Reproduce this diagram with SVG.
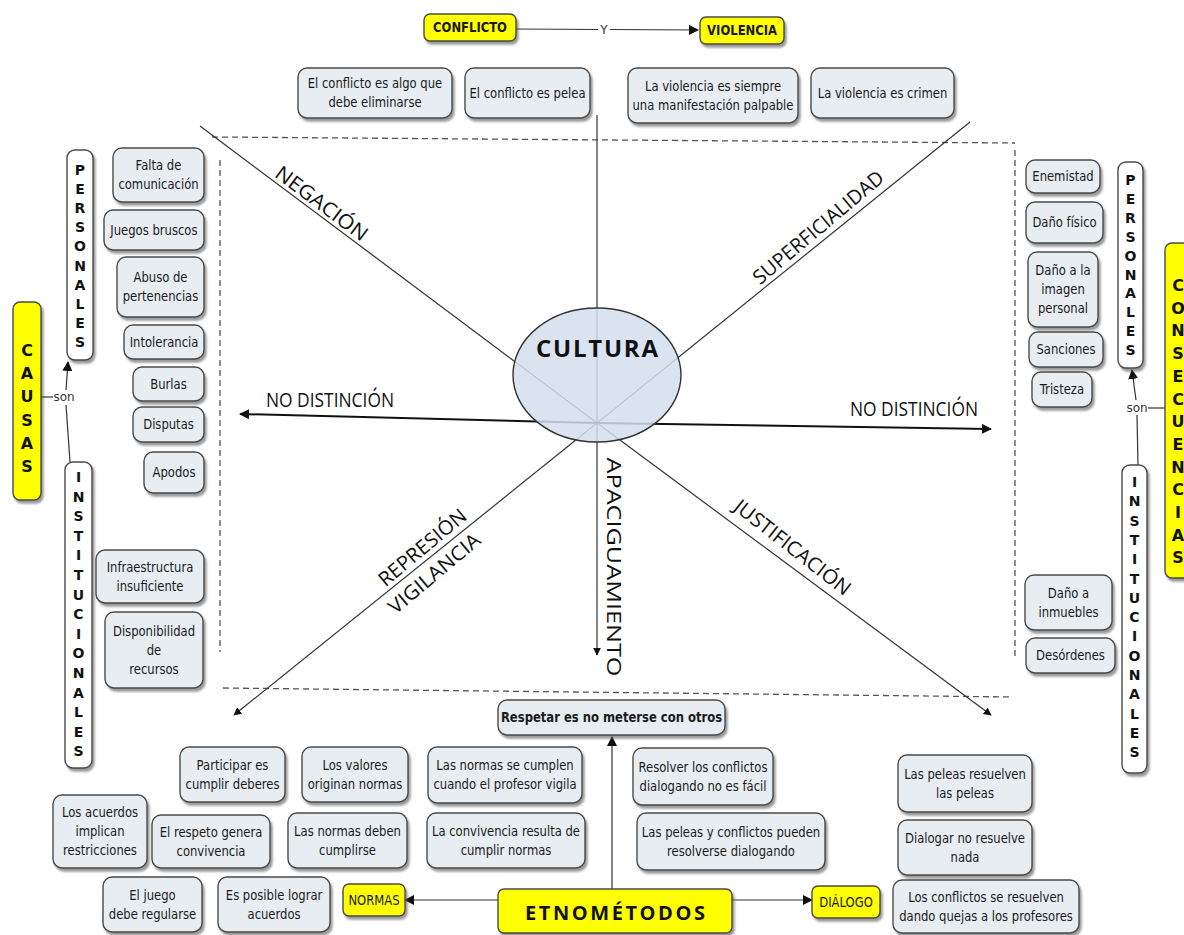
<svg xmlns="http://www.w3.org/2000/svg" width="1184" height="935" viewBox="0 0 1184 935">
<defs>
<filter id="sh" x="-20%" y="-20%" width="140%" height="140%">
<feDropShadow dx="2" dy="3" stdDeviation="1" flood-color="#555" flood-opacity="0.6"/>
</filter>
<marker id="ah" viewBox="0 0 10 10" refX="9" refY="5" markerWidth="10" markerHeight="10" markerUnits="userSpaceOnUse" orient="auto">
<path d="M0,0 L10,5 L0,10 Z" fill="#111"/>
</marker>
<marker id="ahs" viewBox="0 0 10 10" refX="9" refY="5" markerWidth="8" markerHeight="8" markerUnits="userSpaceOnUse" orient="auto">
<path d="M0,0 L10,5 L0,10 Z" fill="#111"/>
</marker>
</defs>
<style>
.n rect{fill:#e7edf1;stroke:#4a4a4a;stroke-width:1.4;filter:url(#sh)}
.y rect{fill:#ffff00;stroke:#4a4a4a;stroke-width:1.4;filter:url(#sh)}
.w rect{fill:#ffffff;stroke:#4a4a4a;stroke-width:1.4;filter:url(#sh)}
.t{font-family:"DejaVu Sans",Verdana,sans-serif;font-size:14.5px;fill:#1a1a1a;text-anchor:middle;transform-box:fill-box;transform-origin:center;transform:scaleX(0.8)}
.b{font-weight:bold}
.v{font-family:"DejaVu Sans",Verdana,sans-serif;font-weight:bold;font-size:14px;fill:#111;text-anchor:middle}
.vb{font-size:16px}
.lbl{font-family:"Open Sans",sans-serif;font-size:20px;fill:#111;text-anchor:middle}
.c{dominant-baseline:central}
.ln{stroke:#333;stroke-width:1.2;fill:none}
.dash{stroke:#555;stroke-width:1.3;stroke-dasharray:6 4;fill:none}
.lp{font-family:"DejaVu Sans",Verdana,sans-serif;font-size:12px;fill:#333;text-anchor:middle}
</style>
<rect width="1184" height="935" fill="#ffffff"/>

<g id="guides">
<path class="dash" d="M212,137 L1015,143"/>
<path class="dash" d="M220,160 L220,652"/>
<path class="dash" d="M1015,150 L1015,657"/>
<path class="dash" d="M223,688 L1013,697"/>
</g>

<g id="connectors">
<path class="ln" d="M200,126 L597,423"/>
<path class="ln" d="M970,122 L597,423"/>
<path class="ln" d="M597,115 L597,423"/>
<path class="ln" d="M597,423 L597,655" marker-end="url(#ahs)"/>
<path class="ln" d="M597,423 L234,715" marker-end="url(#ahs)"/>
<path class="ln" d="M597,423 L991,715" marker-end="url(#ahs)"/>
<path d="M597,423 L240,414" stroke="#111" stroke-width="2" fill="none" marker-end="url(#ah)"/>
<path d="M597,423 L991,429" stroke="#111" stroke-width="2" fill="none" marker-end="url(#ah)"/>
<path class="ln" d="M516,29 L598,29.5"/>
<path class="ln" d="M610,29.5 L698,30" marker-end="url(#ah)"/>
<text class="lp" x="604" y="34">Y</text>
<path class="ln" d="M41,397 L53,397"/>
<path class="ln" d="M66,390 L68,362" marker-end="url(#ah)"/>
<path class="ln" d="M66,405 L70,462"/>
<text class="lp" x="64" y="401">son</text>
<path class="ln" d="M1148,408 L1165,408"/>
<path class="ln" d="M1136,400 L1132,370" marker-end="url(#ah)"/>
<path class="ln" d="M1137,415 L1138,465"/>
<text class="lp" x="1137" y="412">son</text>
<path class="ln" d="M612,889 L612,737" marker-end="url(#ah)"/>
<path class="ln" d="M498,900 L405,900" marker-end="url(#ah)"/>
<path class="ln" d="M732,900 L812,900" marker-end="url(#ah)"/>
</g>

<g id="cultura">
<ellipse cx="597" cy="375" rx="84" ry="67" fill="#d3dfee" fill-opacity="0.85" stroke="#333" stroke-width="1.4"/>
<text x="597" y="357" font-family="Open Sans,sans-serif" font-weight="bold" font-size="24" fill="#111" text-anchor="middle" textLength="122" lengthAdjust="spacing">CULTURA</text>
</g>

<g id="labels">
<text class="lbl c" transform="translate(322,203) rotate(37)" textLength="110" lengthAdjust="spacingAndGlyphs">NEGACIÓN</text>
<text class="lbl c" transform="translate(818,227) rotate(-40)" textLength="164" lengthAdjust="spacingAndGlyphs">SUPERFICIALIDAD</text>
<text class="lbl" x="330" y="407" textLength="128" lengthAdjust="spacingAndGlyphs">NO DISTINCIÓN</text>
<text class="lbl" x="914" y="416" textLength="128" lengthAdjust="spacingAndGlyphs">NO DISTINCIÓN</text>
<text class="lbl c" transform="translate(422,547) rotate(-40)" textLength="108" lengthAdjust="spacingAndGlyphs">REPRESIÓN</text>
<text class="lbl c" transform="translate(434,573) rotate(-40)" textLength="113" lengthAdjust="spacingAndGlyphs">VIGILANCIA</text>
<text class="lbl c" transform="translate(793,547) rotate(38)" textLength="142" lengthAdjust="spacingAndGlyphs">JUSTIFICACIÓN</text>
<text class="lbl c" transform="translate(614,567) rotate(90)" font-size="22" textLength="219" lengthAdjust="spacingAndGlyphs">APACIGUAMIENTO</text>
</g>

<g id="conflicto" class="y"><rect x="424" y="14" width="92" height="27" rx="6"/><text class="t b" x="470" y="32">CONFLICTO</text></g>
<g id="violencia" class="y"><rect x="700" y="17" width="84" height="27" rx="6"/><text class="t b" x="742" y="35">VIOLENCIA</text></g>

<g id="n-algo" class="n"><rect x="298" y="68" width="154" height="50" rx="9"/><text class="t"><tspan x="375" y="88.5">El conflicto es algo que</tspan><tspan x="375" y="107.5">debe eliminarse</tspan></text></g>
<g id="n-pelea" class="n"><rect x="465" y="68" width="125" height="50" rx="9"/><text class="t" x="527.5" y="98">El conflicto es pelea</text></g>
<g id="n-palpable" class="n"><rect x="628" y="68" width="170" height="55" rx="9"/><text class="t"><tspan x="713" y="91">La violencia es siempre</tspan><tspan x="713" y="110">una manifestación palpable</tspan></text></g>
<g id="n-crimen" class="n"><rect x="811" y="68" width="143" height="50" rx="9"/><text class="t" x="882.5" y="98">La violencia es crimen</text></g>

<g id="causas" class="y"><rect x="13" y="302" width="28" height="198" rx="7"/>
<text class="v vb" x="27" y="356"><tspan x="27">C</tspan><tspan x="27" dy="23.2">A</tspan><tspan x="27" dy="23.2">U</tspan><tspan x="27" dy="23.2">S</tspan><tspan x="27" dy="23.2">A</tspan><tspan x="27" dy="23.2">S</tspan></text></g>

<g id="personales-c" class="w"><rect x="67" y="150" width="26" height="210" rx="8"/>
<text class="v" x="80" y="175"><tspan x="80">P</tspan><tspan x="80" dy="19.1">E</tspan><tspan x="80" dy="19.1">R</tspan><tspan x="80" dy="19.1">S</tspan><tspan x="80" dy="19.1">O</tspan><tspan x="80" dy="19.1">N</tspan><tspan x="80" dy="19.1">A</tspan><tspan x="80" dy="19.1">L</tspan><tspan x="80" dy="19.1">E</tspan><tspan x="80" dy="19.1">S</tspan></text></g>

<g id="institucionales-c" class="w"><rect x="65" y="462" width="27" height="306" rx="8"/>
<text class="v" x="78.5" y="482"><tspan x="78.5">I</tspan><tspan x="78.5" dy="19.6">N</tspan><tspan x="78.5" dy="19.6">S</tspan><tspan x="78.5" dy="19.6">T</tspan><tspan x="78.5" dy="19.6">I</tspan><tspan x="78.5" dy="19.6">T</tspan><tspan x="78.5" dy="19.6">U</tspan><tspan x="78.5" dy="19.6">C</tspan><tspan x="78.5" dy="19.6">I</tspan><tspan x="78.5" dy="19.6">O</tspan><tspan x="78.5" dy="19.6">N</tspan><tspan x="78.5" dy="19.6">A</tspan><tspan x="78.5" dy="19.6">L</tspan><tspan x="78.5" dy="19.6">E</tspan><tspan x="78.5" dy="19.6">S</tspan></text></g>

<g id="n-falta" class="n"><rect x="113" y="148" width="91" height="54" rx="9"/><text class="t"><tspan x="158.5" y="170.5">Falta de</tspan><tspan x="158.5" y="189.5">comunicación</tspan></text></g>
<g id="n-juegos" class="n"><rect x="104" y="210" width="100" height="40" rx="9"/><text class="t" x="154" y="235">Juegos bruscos</text></g>
<g id="n-abuso" class="n"><rect x="117" y="257" width="87" height="60" rx="9"/><text class="t"><tspan x="160.5" y="282.5">Abuso de</tspan><tspan x="160.5" y="301.5">pertenencias</tspan></text></g>
<g id="n-intolerancia" class="n"><rect x="124" y="325" width="80" height="34" rx="9"/><text class="t" x="164" y="347">Intolerancia</text></g>
<g id="n-burlas" class="n"><rect x="133" y="367" width="71" height="34" rx="9"/><text class="t" x="168.5" y="389">Burlas</text></g>
<g id="n-disputas" class="n"><rect x="133" y="407" width="71" height="35" rx="9"/><text class="t" x="168.5" y="429.5">Disputas</text></g>
<g id="n-apodos" class="n"><rect x="144" y="452" width="60" height="41" rx="9"/><text class="t" x="174" y="477.5">Apodos</text></g>
<g id="n-infra" class="n"><rect x="96" y="550" width="108" height="53" rx="9"/><text class="t"><tspan x="150" y="572">Infraestructura</tspan><tspan x="150" y="591">insuficiente</tspan></text></g>
<g id="n-dispon" class="n"><rect x="105" y="612" width="98" height="76" rx="9"/><text class="t"><tspan x="154" y="636">Disponibilidad</tspan><tspan x="154" y="655">de</tspan><tspan x="154" y="674">recursos</tspan></text></g>

<g id="consecuencias" class="y"><rect x="1165" y="243" width="30" height="335" rx="7"/>
<text class="v vb" x="1178" y="291"><tspan x="1178">C</tspan><tspan x="1178" dy="22.7">O</tspan><tspan x="1178" dy="22.7">N</tspan><tspan x="1178" dy="22.7">S</tspan><tspan x="1178" dy="22.7">E</tspan><tspan x="1178" dy="22.7">C</tspan><tspan x="1178" dy="22.7">U</tspan><tspan x="1178" dy="22.7">E</tspan><tspan x="1178" dy="22.7">N</tspan><tspan x="1178" dy="22.7">C</tspan><tspan x="1178" dy="22.7">I</tspan><tspan x="1178" dy="22.7">A</tspan><tspan x="1178" dy="22.7">S</tspan></text></g>

<g id="personales-k" class="w"><rect x="1118" y="162" width="25" height="206" rx="8"/>
<text class="v" x="1130.5" y="185"><tspan x="1130.5">P</tspan><tspan x="1130.5" dy="18.9">E</tspan><tspan x="1130.5" dy="18.9">R</tspan><tspan x="1130.5" dy="18.9">S</tspan><tspan x="1130.5" dy="18.9">O</tspan><tspan x="1130.5" dy="18.9">N</tspan><tspan x="1130.5" dy="18.9">A</tspan><tspan x="1130.5" dy="18.9">L</tspan><tspan x="1130.5" dy="18.9">E</tspan><tspan x="1130.5" dy="18.9">S</tspan></text></g>

<g id="institucionales-k" class="w"><rect x="1122" y="465" width="25" height="308" rx="8"/>
<text class="v" x="1134.5" y="487"><tspan x="1134.5">I</tspan><tspan x="1134.5" dy="19.3">N</tspan><tspan x="1134.5" dy="19.3">S</tspan><tspan x="1134.5" dy="19.3">T</tspan><tspan x="1134.5" dy="19.3">I</tspan><tspan x="1134.5" dy="19.3">T</tspan><tspan x="1134.5" dy="19.3">U</tspan><tspan x="1134.5" dy="19.3">C</tspan><tspan x="1134.5" dy="19.3">I</tspan><tspan x="1134.5" dy="19.3">O</tspan><tspan x="1134.5" dy="19.3">N</tspan><tspan x="1134.5" dy="19.3">A</tspan><tspan x="1134.5" dy="19.3">L</tspan><tspan x="1134.5" dy="19.3">E</tspan><tspan x="1134.5" dy="19.3">S</tspan></text></g>

<g id="n-enemistad" class="n"><rect x="1026" y="160" width="74" height="33" rx="9"/><text class="t" x="1063" y="181.5">Enemistad</text></g>
<g id="n-danofisico" class="n"><rect x="1026" y="202" width="77" height="41" rx="9"/><text class="t" x="1064.5" y="227.5">Daño físico</text></g>
<g id="n-imagen" class="n"><rect x="1028" y="252" width="70" height="75" rx="9"/><text class="t"><tspan x="1063" y="275.5">Daño a la</tspan><tspan x="1063" y="294.5">imagen</tspan><tspan x="1063" y="313.5">personal</tspan></text></g>
<g id="n-sanciones" class="n"><rect x="1029" y="332" width="74" height="35" rx="9"/><text class="t" x="1066" y="354.5">Sanciones</text></g>
<g id="n-tristeza" class="n"><rect x="1032" y="372" width="60" height="35" rx="9"/><text class="t" x="1062" y="394.5">Tristeza</text></g>
<g id="n-inmuebles" class="n"><rect x="1025" y="575" width="87" height="55" rx="9"/><text class="t"><tspan x="1068.5" y="598">Daño a</tspan><tspan x="1068.5" y="617">inmuebles</tspan></text></g>
<g id="n-desordenes" class="n"><rect x="1026" y="638" width="89" height="35" rx="9"/><text class="t" x="1070.5" y="660.5">Desórdenes</text></g>

<g id="n-respetar" class="n"><rect x="498" y="700" width="227" height="35" rx="9"/><text class="t b" x="611.5" y="722">Respetar es no meterse con otros</text></g>
<g id="n-participar" class="n"><rect x="180" y="747" width="105" height="55" rx="9"/><text class="t"><tspan x="232.5" y="770">Participar es</tspan><tspan x="232.5" y="789">cumplir deberes</tspan></text></g>
<g id="n-valores" class="n"><rect x="302" y="747" width="106" height="55" rx="9"/><text class="t"><tspan x="355" y="770">Los valores</tspan><tspan x="355" y="789">originan normas</tspan></text></g>
<g id="n-vigila" class="n"><rect x="428" y="747" width="154" height="56" rx="9"/><text class="t"><tspan x="505" y="770.5">Las normas se cumplen</tspan><tspan x="505" y="789.5">cuando el profesor vigila</tspan></text></g>
<g id="n-resolver" class="n"><rect x="633" y="748" width="140" height="57" rx="9"/><text class="t"><tspan x="703" y="772">Resolver los conflictos</tspan><tspan x="703" y="791">dialogando no es fácil</tspan></text></g>
<g id="n-peleas" class="n"><rect x="898" y="755" width="134" height="57" rx="9"/><text class="t"><tspan x="965" y="779">Las peleas resuelven</tspan><tspan x="965" y="798">las peleas</tspan></text></g>
<g id="n-acuerdos" class="n"><rect x="53" y="795" width="94" height="73" rx="9"/><text class="t"><tspan x="100" y="817.5">Los acuerdos</tspan><tspan x="100" y="836.5">implican</tspan><tspan x="100" y="855.5">restricciones</tspan></text></g>
<g id="n-respeto" class="n"><rect x="152" y="815" width="118" height="53" rx="9"/><text class="t"><tspan x="211" y="837">El respeto genera</tspan><tspan x="211" y="856">convivencia</tspan></text></g>
<g id="n-deben" class="n"><rect x="288" y="813" width="119" height="55" rx="9"/><text class="t"><tspan x="347.5" y="836">Las normas deben</tspan><tspan x="347.5" y="855">cumplirse</tspan></text></g>
<g id="n-convivencia" class="n"><rect x="427" y="813" width="158" height="55" rx="9"/><text class="t"><tspan x="506" y="836">La convivencia resulta de</tspan><tspan x="506" y="855">cumplir normas</tspan></text></g>
<g id="n-pueden" class="n"><rect x="637" y="813" width="188" height="57" rx="9"/><text class="t"><tspan x="731" y="837">Las peleas y conflictos pueden</tspan><tspan x="731" y="856">resolverse dialogando</tspan></text></g>
<g id="n-dialogar" class="n"><rect x="898" y="820" width="134" height="55" rx="9"/><text class="t"><tspan x="965" y="843">Dialogar no resuelve</tspan><tspan x="965" y="862">nada</tspan></text></g>
<g id="n-juego" class="n"><rect x="103" y="877" width="99" height="55" rx="9"/><text class="t"><tspan x="152.5" y="900">El juego</tspan><tspan x="152.5" y="919">debe regularse</tspan></text></g>
<g id="n-posible" class="n"><rect x="218" y="877" width="112" height="55" rx="9"/><text class="t"><tspan x="274" y="900">Es posible lograr</tspan><tspan x="274" y="919">acuerdos</tspan></text></g>
<g id="n-quejas" class="n"><rect x="893" y="880" width="186" height="53" rx="9"/><text class="t"><tspan x="986" y="902">Los conflictos se resuelven</tspan><tspan x="986" y="921">dando quejas a los profesores</tspan></text></g>

<g id="normas" class="y"><rect x="343" y="884" width="62" height="32" rx="6"/><text class="t" x="374" y="905">NORMAS</text></g>
<g id="etnometodos" class="y"><rect x="498" y="889" width="234" height="44" rx="6"/><text x="615" y="920" font-family="Open Sans,sans-serif" font-weight="bold" font-size="20" fill="#111" text-anchor="middle" textLength="180" lengthAdjust="spacing">ETNOMÉTODOS</text></g>
<g id="dialogo" class="y"><rect x="812" y="886" width="68" height="32" rx="6"/><text class="t" x="846" y="907">DIÁLOGO</text></g>
</svg>
